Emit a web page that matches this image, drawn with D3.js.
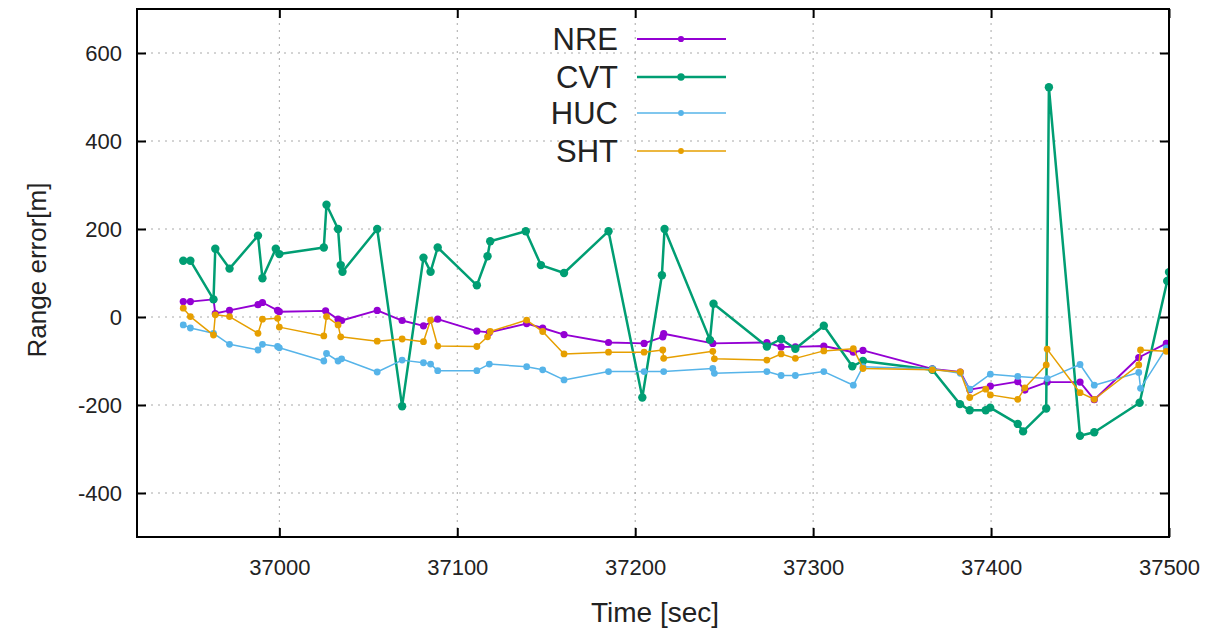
<!DOCTYPE html>
<html><head><meta charset="utf-8">
<script src="https://cdn.jsdelivr.net/npm/d3@7"></script>
<style>
body{margin:0;background:#fff;}
svg{display:block;font-family:"Liberation Sans",Arial,sans-serif;}
</style></head>
<body><svg id="c" width="1221" height="632"></svg>
<script>
const xTicks = [37000, 37100, 37200, 37300, 37400, 37500];
const yTicks = [-400, -200, 0, 200, 400, 600];
const seriesNames = ["NRE", "CVT", "HUC", "SHT"];

const nreTime = [36946,36950,36963,36964,36972,36988,36990.5,36999,37000,37026,37033,37035,37055,37069,37081,37089,37111,37118,37139,37148,37160,37185,37205,37215.5,37216,37243.6,37274,37282,37290,37306,37322.6,37328,37367,37382.7,37388,37399.6,37415,37419,37431.5,37450,37458,37483,37498.5];
const nreErr  = [35,35,40,8,15,28,33,15,12,14,-5,-8,15,-8,-20,-5,-32,-35,-15,-25,-40,-58,-60,-45,-38,-60,-58,-68,-68,-66,-80,-76,-118,-125,-165,-157,-147,-166,-148,-148,-188,-92,-60];

const cvtTime = [36946,36950,36963,36964,36972,36988,36990.5,36998,37000,37025,37026.5,37033,37034.5,37035.5,37055,37069,37081,37085,37089,37111,37117,37118.5,37138.5,37147,37160,37185,37204,37215,37216.5,37242,37244,37274,37282,37290,37306,37322,37328,37367,37382.5,37388,37397,37399.5,37415,37418,37431,37432.5,37450,37458,37483.5,37499,37500];
const cvtErr  = [128,128,40,155,110,185,88,155,143,158,255,200,118,103,200,-203,135,103,158,72,138,172,195,118,100,195,-183,95,200,-52,30,-67,-50,-72,-20,-112,-100,-120,-198,-212,-212,-206,-243,-260,-208,522,-270,-262,-195,82,102];

const hucTime = [36946,36950,36963,36972,36988,36990.5,36999,37000,37025,37026.5,37033,37035,37055,37069,37081,37085,37089,37111,37118,37139,37148,37160,37185,37205,37216,37243.6,37244.5,37274,37282,37290,37306,37322.6,37328,37367,37382.7,37388,37399.6,37415,37431.5,37450,37458,37483,37484,37498.5];
const hucErr  = [-18,-25,-37,-62,-75,-62,-67,-70,-100,-83,-100,-95,-125,-98,-104,-107,-122,-122,-107,-113,-120,-143,-124,-124,-124,-117,-128,-124,-133,-133,-124,-155,-113,-118,-128,-164,-130,-135,-140,-108,-155,-126,-162,-70];

const shtTime = [36946,36950,36963,36964,36972,36988,36990.5,36999,37000,37025,37026.5,37033,37034.5,37055,37069,37081,37085,37089,37111,37117,37118.5,37139,37148,37160,37185,37205,37215.5,37216,37243.6,37244.5,37274,37282,37290,37306,37322.6,37328,37367,37382.7,37388,37397,37399.6,37415,37419,37431,37431.5,37450,37458,37483,37484,37498.5];
const shtErr  = [20,1,-41,5,1,-37,-5,-3,-23,-43,1,-18,-45,-55,-50,-56,-7,-66,-67,-45,-33,-7,-33,-84,-80,-80,-75,-94,-78,-95,-98,-84,-94,-77,-72,-117,-120,-125,-183,-164,-177,-187,-161,-109,-73,-172,-187,-109,-75,-78];

const colors = {NRE:"#9400d3", CVT:"#009e73", HUC:"#56b4e9", SHT:"#e69f00"};
const widths = {NRE:1.9, CVT:2.5, HUC:1.5, SHT:1.5};
const radii  = {NRE:3.6, CVT:4.2, HUC:3.4, SHT:3.4};

const series = [
  {name:"NRE", t:nreTime, v:nreErr},
  {name:"CVT", t:cvtTime, v:cvtErr},
  {name:"HUC", t:hucTime, v:hucErr},
  {name:"SHT", t:shtTime, v:shtErr}
].map(s => ({name:s.name, pts:s.t.map((t,i)=>({t:t, v:s.v[i]}))}));

const L=137, R=1169, T=9, B=537;
const svg = d3.select("#c");
const x = d3.scaleLinear().domain([36920, 37500]).range([L, R]);
const y = d3.scaleLinear().domain([-500, 700]).range([B, T]);
const plain = d => String(d);

// grid
const g = svg.append("g");
g.selectAll(".gx").data(xTicks).join("line")
  .attr("x1",d=>x(d)).attr("x2",d=>x(d)).attr("y1",T).attr("y2",B)
  .attr("stroke","#a8a8a8").attr("stroke-width",1).attr("stroke-dasharray","2,5");
g.selectAll(".gy").data(yTicks).join("line")
  .attr("x1",L).attr("x2",R).attr("y1",d=>y(d)).attr("y2",d=>y(d))
  .attr("stroke","#a8a8a8").attr("stroke-width",1).attr("stroke-dasharray","2,5");

// axes
const fs = 22;
const ax = svg.append("g").attr("transform",`translate(0,${B})`)
  .call(d3.axisBottom(x).tickValues(xTicks).tickFormat(plain).tickSizeInner(-9).tickSizeOuter(0).tickPadding(22));
const ay = svg.append("g").attr("transform",`translate(${L},0)`)
  .call(d3.axisLeft(y).tickValues(yTicks).tickFormat(plain).tickSizeInner(-9).tickSizeOuter(0).tickPadding(15));
const axT = svg.append("g").attr("transform",`translate(0,${T})`)
  .call(d3.axisTop(x).tickValues(xTicks).tickSizeInner(-9).tickSizeOuter(0).tickFormat(""));
const ayR = svg.append("g").attr("transform",`translate(${R},0)`)
  .call(d3.axisRight(y).tickValues(yTicks).tickSizeInner(-9).tickSizeOuter(0).tickFormat(""));
[ax,ay,axT,ayR].forEach(a=>{
  a.select(".domain").remove();
  a.selectAll(".tick line").attr("stroke","#000").attr("stroke-width",2);
  a.selectAll("text").attr("font-size",fs).attr("fill","#222").attr("font-family","'Liberation Sans',Arial,sans-serif");
});
ax.selectAll("text").attr("dy","0.71em");

// clip
svg.append("clipPath").attr("id","clip").append("rect")
  .attr("x",L).attr("y",T).attr("width",R-L).attr("height",B-T);

const line = d3.line().x(d=>x(d.t)).y(d=>y(d.v));
const plot = svg.append("g").attr("clip-path","url(#clip)");
series.forEach(s=>{
  const gg = plot.append("g");
  gg.append("path").datum(s.pts).attr("d",line).attr("fill","none")
    .attr("stroke",colors[s.name]).attr("stroke-width",widths[s.name]).attr("stroke-linejoin","round");
  gg.selectAll("circle").data(s.pts).join("circle")
    .attr("cx",d=>x(d.t)).attr("cy",d=>y(d.v)).attr("r",radii[s.name]).attr("fill",colors[s.name]);
});

// border
svg.append("rect").attr("x",L).attr("y",T).attr("width",R-L).attr("height",B-T)
  .attr("fill","none").attr("stroke","#000").attr("stroke-width",2);

// legend
const legY = [39, 77, 113, 151];
const lg = svg.append("g");
seriesNames.forEach((n,i)=>{
  lg.append("text").attr("x",618).attr("y",legY[i]).attr("dy","0.36em")
    .attr("text-anchor","end").attr("font-size",31).attr("fill","#222").text(n);
  lg.append("line").attr("x1",637).attr("x2",726).attr("y1",legY[i]).attr("y2",legY[i])
    .attr("stroke",colors[n]).attr("stroke-width",widths[n]);
  lg.append("circle").attr("cx",681).attr("cy",legY[i]).attr("r",radii[n]-0.5).attr("fill",colors[n]);
});

// axis titles
svg.append("text").attr("x",655).attr("y",622).attr("text-anchor","middle")
  .attr("font-size",28).attr("fill","#222").text("Time [sec]");
svg.append("text").attr("transform","translate(46,270) rotate(-90)").attr("text-anchor","middle")
  .attr("font-size",26).attr("fill","#222").text("Range error[m]");
</script></body></html>
